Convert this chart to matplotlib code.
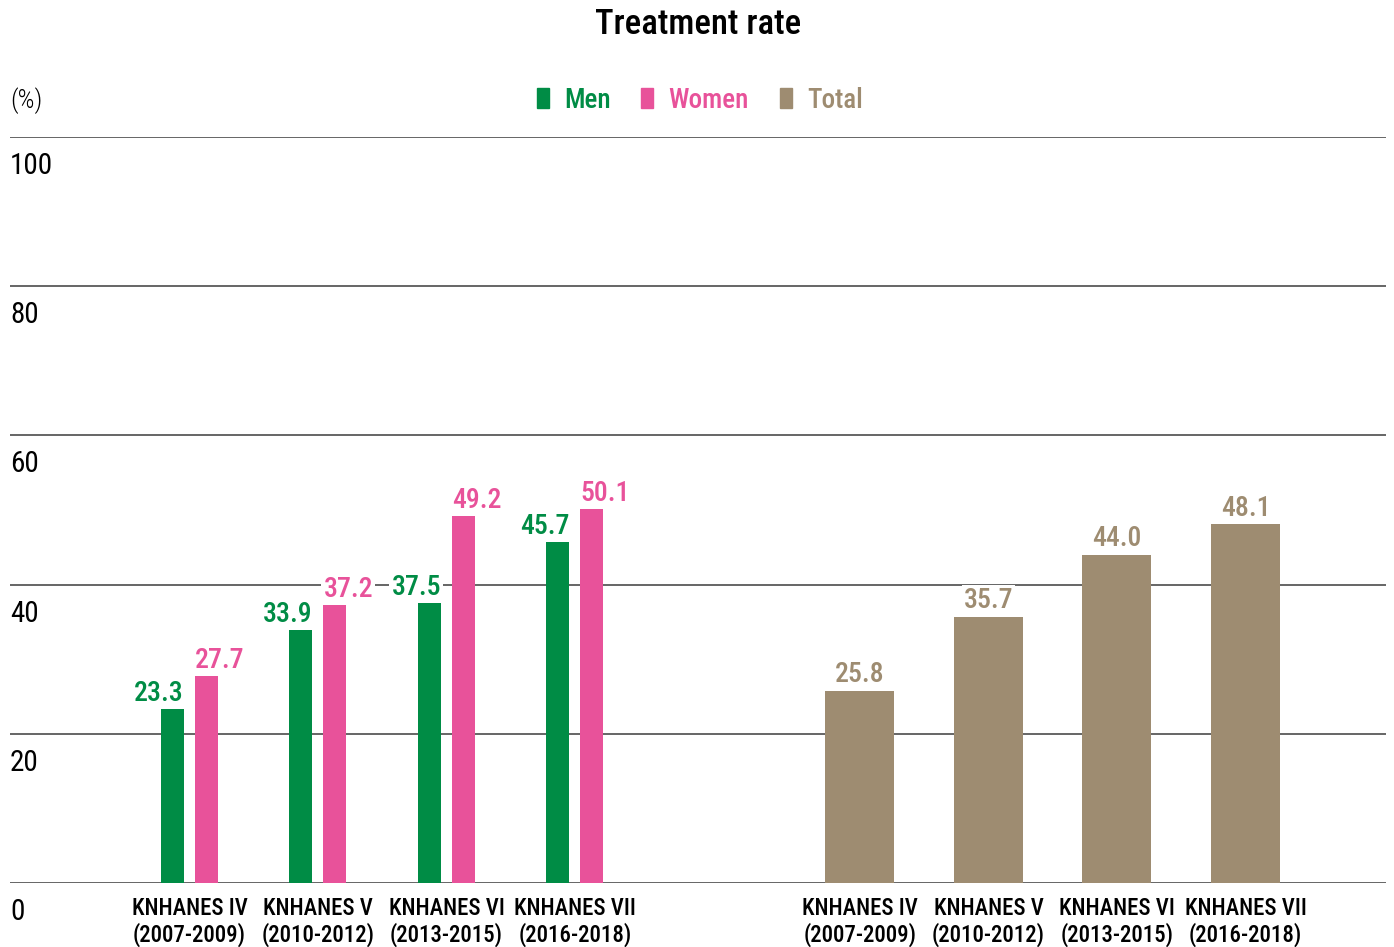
import matplotlib
matplotlib.use("Agg")
import matplotlib.pyplot as plt
import numpy as np

plt.rcParams['font.family'] = ['Roboto Condensed', 'DejaVu Sans']

# treatment rate by survey cycle (%)
cycles = ["KNHANES IV\n(2007-2009)", "KNHANES V\n(2010-2012)",
          "KNHANES VI\n(2013-2015)", "KNHANES VII\n(2016-2018)"]
men = [23.3, 33.9, 37.5, 45.7]
women = [27.7, 37.2, 49.2, 50.1]
total = [25.8, 35.7, 44.0, 48.1]
yticks = [0, 20, 40, 60, 80, 100]

c_men = "#008C45"
c_women = "#E8529A"
c_total = "#9E8C71"
c_grid = "#3c3c3c"

fig = plt.figure(figsize=(13.94, 9.47), dpi=100)
W, H = 1394, 947
# plot area: pixel x 10..1386, y 137..883
ax = fig.add_axes([10 / W, (H - 883) / H, 1376 / W, (883 - 137) / H])

step = 128.5
left = np.arange(len(cycles))
right = left + (860 - 189.5) / step
bw = 23 / step
off = 17 / step

ax.set_xlim(-179.5 / step, 1196.5 / step)
ax.set_ylim(0, 100)

for y in yticks:
    ax.axhline(y, color=c_grid, lw=1.1, zorder=1)

b1 = ax.bar(left - off, men, width=bw, color=c_men, zorder=2)
b2 = ax.bar(left + off, women, width=bw, color=c_women, zorder=2)
b3 = ax.bar(right, total, width=69 / step, color=c_total, zorder=2)

lab_kw = dict(textcoords="offset points", va="baseline", fontsize=20,
              fontweight=500, zorder=3,
              bbox=dict(boxstyle="square,pad=0.08", fc="white", ec="none"))
for rect, v in zip(b1, men):
    ax.annotate(f"{v:.1f}", (rect.get_x() + rect.get_width(), v),
                xytext=(0, 6), ha="right", color=c_men, **lab_kw)
for rect, v in zip(b2, women):
    ax.annotate(f"{v:.1f}", (rect.get_x(), v),
                xytext=(0, 6), ha="left", color=c_women, **lab_kw)
for rect, v in zip(b3, total):
    ax.annotate(f"{v:.1f}", (rect.get_x() + rect.get_width() / 2, v),
                xytext=(0, 6), ha="center", color=c_total, **lab_kw)

# category labels under both panels
for xs in (left, right):
    for x, lab in zip(xs, cycles):
        ax.text(x, -1.9, lab, ha="center", va="top", fontsize=16.5,
                fontweight=500, linespacing=1.13)

# y labels sit just below each grid line
for y in yticks:
    ax.text(0, y - 2.0, str(y), transform=ax.get_yaxis_transform(),
            ha="left", va="top", fontsize=21)

ax.set_xticks([])
ax.set_yticks([])
for s in ax.spines.values():
    s.set_visible(False)

fig.text(698 / W, 1 - 24 / H, "Treatment rate", ha="center", va="center",
         fontsize=25, fontweight=500)
fig.text(10 / W, 1 - 101 / H, "(%)", ha="left", va="center", fontsize=19,
         fontweight=300)

# legend
legend_items = [("Men", c_men, 537), ("Women", c_women, 641), ("Total", c_total, 780)]
for name, col, px in legend_items:
    fig.patches.append(plt.Rectangle((px / W, 1 - 108 / H), 12 / W, 20 / H,
                                     transform=fig.transFigure, color=col))
    fig.text((px + 27) / W, 1 - 100 / H, name, ha="left", va="center",
             fontsize=19.5, fontweight=500, color=col)

fig.savefig("out.png", dpi=100)
